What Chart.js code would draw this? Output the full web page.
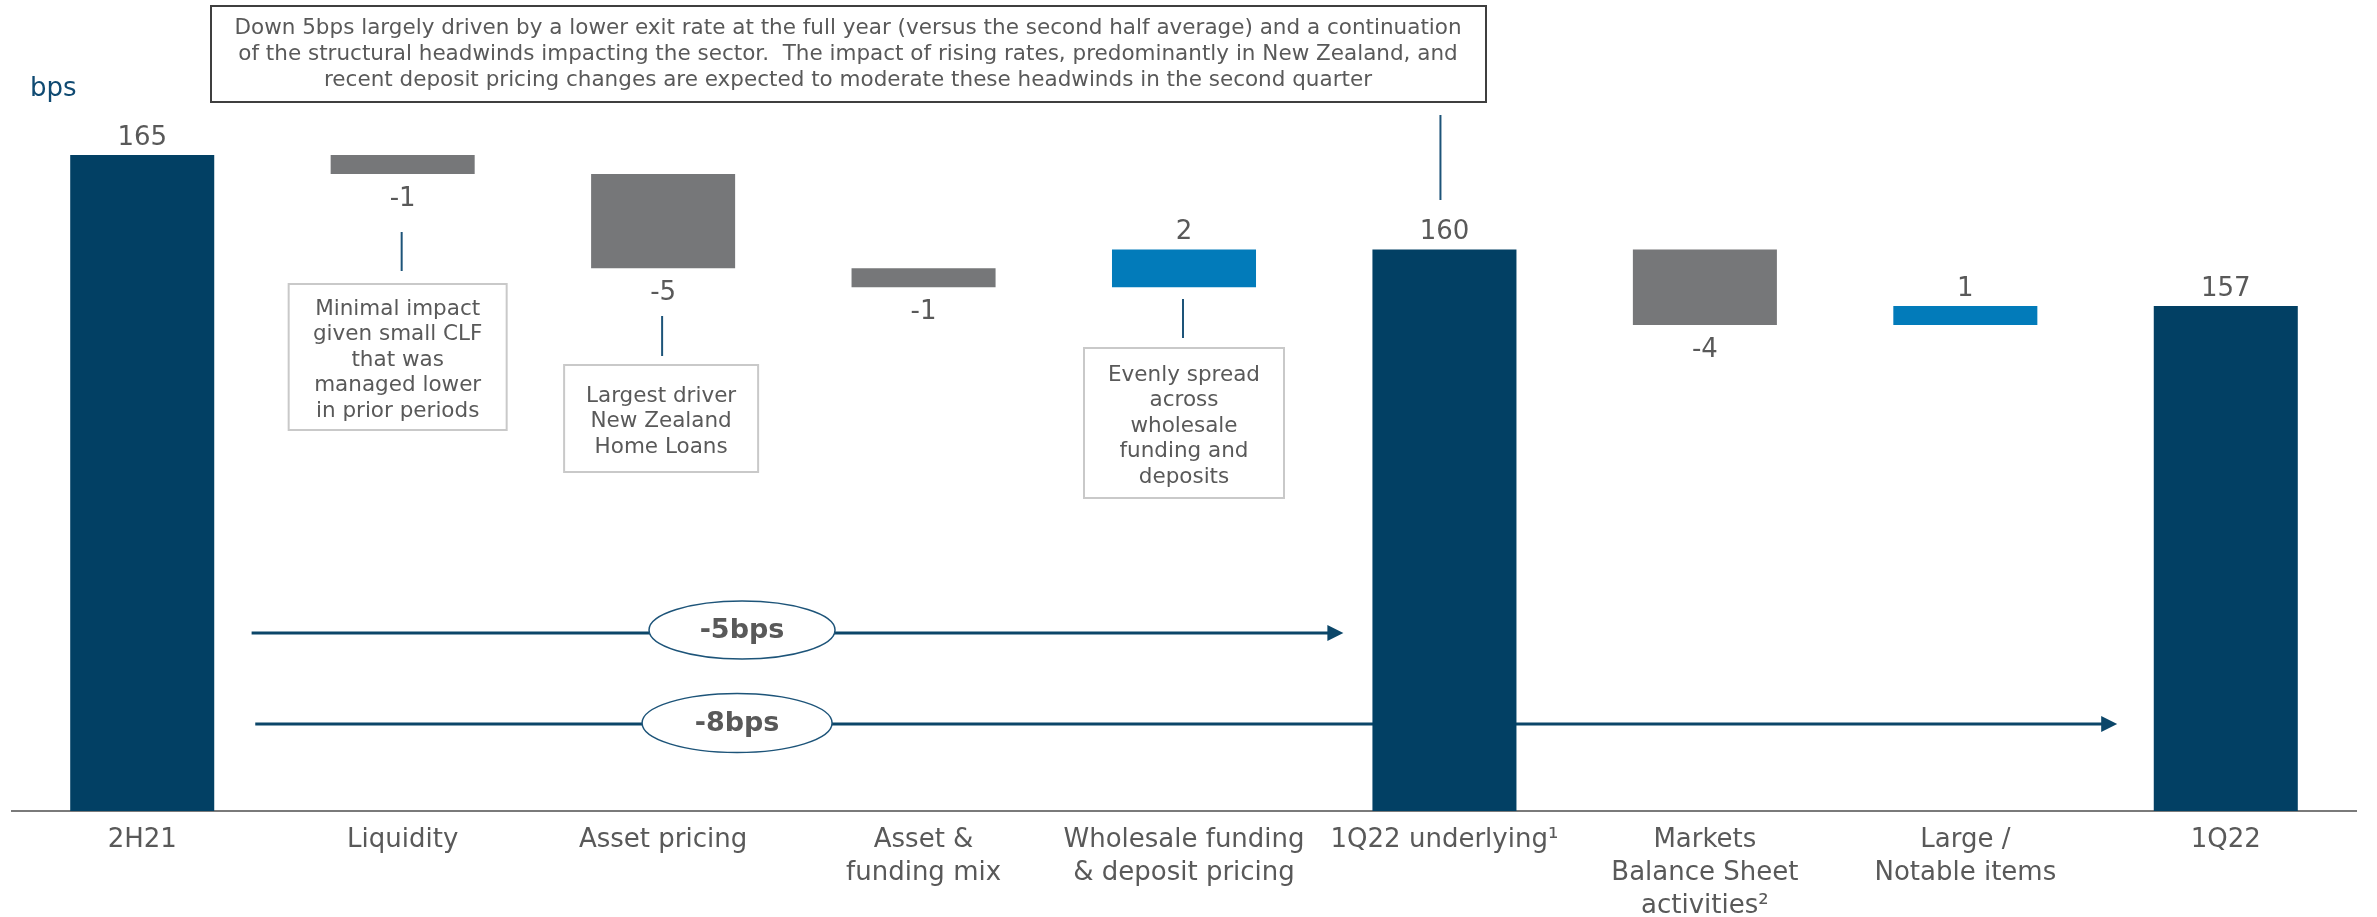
<!DOCTYPE html>
<html>
<head>
<meta charset="utf-8">
<script src="https://cdn.jsdelivr.net/npm/chart.js@4.4.1/dist/chart.umd.min.js"></script>
<style>
  html, body { margin: 0; padding: 0; background: #fff; }
  #wrap { position: relative; width: 2377px; height: 917px; }
</style>
</head>
<body>
<div id="wrap"><canvas id="nimChart"></canvas></div>
<script>
// bridge data (bps)
const categories = [
    ['2H21'], ['Liquidity'], ['Asset pricing'], ['Asset &', 'funding mix'],
    ['Wholesale funding', '& deposit pricing'], ['1Q22 underlying\u00B9'],
    ['Markets', 'Balance Sheet', 'activities\u00B2'], ['Large /', 'Notable items'], ['1Q22']
];
const movements = [165, -1, -5, -1, 2, 160, -4, 1, 157];
const isTotal = [true, false, false, false, false, true, false, false, true];
const axisMin = 130.25;
const axisMax = 173;

const headline = [
    'Down 5bps largely driven by a lower exit rate at the full year (versus the second half average) and a continuation',
    'of the structural headwinds impacting the sector.  The impact of rising rates, predominantly in New Zealand, and',
    'recent deposit pricing changes are expected to moderate these headwinds in the second quarter'
];
const calloutText = {
    1: ['Minimal impact', 'given small CLF', 'that was', 'managed lower', 'in prior periods'],
    2: ['Largest driver', 'New Zealand', 'Home Loans'],
    4: ['Evenly spread', 'across', 'wholesale', 'funding and', 'deposits']
};
const bridgeLabels = ['-5bps', '-8bps'];

const NAVY = '#024064';
const GREY = '#767779';
const BLUE = '#027bba';
const TEXT = '#595959';
const FONT = "'DejaVu Sans', Verdana, sans-serif";

// floating bars built from the movements
let running = 0;
const floating = movements.map((v, i) => {
    if (isTotal[i]) {
        running = v;
        return [axisMin, v];
    }
    const start = running;
    running += v;
    return [start, running];
});
const colours = movements.map((v, i) => isTotal[i] ? NAVY : (v < 0 ? GREY : BLUE));

// callout geometry (box size / vertical placement, px)
const calloutBoxes = {
    1: { w: 218, top: 284, h: 146, dx: -5, stem: [232, 271] },
    2: { w: 194, top: 365, h: 107, dx: -2, stem: [316, 356] },
    4: { w: 200, top: 348, h: 150, dx: 0, stem: [299, 338] }
};
const bridges = [
    { from: 0.42, to: 4.612, y: 633, ellipseAt: 2.303, ey: 630, rx: 93, ry: 29 },
    { from: 0.434, to: 7.583, y: 724, ellipseAt: 2.284, ey: 723, rx: 95, ry: 29.5 }
];

function drawLines(ctx, lines, cx, cy, lh) {
    const startY = cy - (lines.length - 1) * lh / 2;
    lines.forEach((t, k) => ctx.fillText(t, cx, startY + k * lh));
}

const annotate = {
    id: 'annotate',
    beforeDatasetsDraw(chart) {
        const ctx = chart.ctx;
        const x = chart.scales.x;
        ctx.save();
        bridges.forEach((b, k) => {
            const x0 = x.getPixelForValue(b.from);
            const x1 = x.getPixelForValue(b.to);
            ctx.strokeStyle = '#0b4669';
            ctx.fillStyle = '#0b4669';
            ctx.lineWidth = 3;
            ctx.beginPath();
            ctx.moveTo(x0, b.y);
            ctx.lineTo(x1 - 12, b.y);
            ctx.stroke();
            ctx.beginPath();
            ctx.moveTo(x1, b.y);
            ctx.lineTo(x1 - 16, b.y - 8);
            ctx.lineTo(x1 - 16, b.y + 8);
            ctx.closePath();
            ctx.fill();

            const ex = x.getPixelForValue(b.ellipseAt);
            ctx.beginPath();
            ctx.ellipse(ex, b.ey, b.rx, b.ry, 0, 0, Math.PI * 2);
            ctx.fillStyle = '#ffffff';
            ctx.fill();
            ctx.lineWidth = 1.5;
            ctx.strokeStyle = '#1d5479';
            ctx.stroke();
            ctx.fillStyle = TEXT;
            ctx.font = 'bold 27px ' + FONT;
            ctx.textAlign = 'center';
            ctx.textBaseline = 'middle';
            ctx.fillText(bridgeLabels[k], ex, b.ey + 1);
        });
        ctx.restore();
    },
    afterDatasetsDraw(chart) {
        const ctx = chart.ctx;
        const x = chart.scales.x;
        const meta = chart.getDatasetMeta(0);
        ctx.save();
        ctx.textAlign = 'center';
        ctx.textBaseline = 'middle';

        // value labels
        ctx.fillStyle = TEXT;
        ctx.font = '26px ' + FONT;
        meta.data.forEach((bar, i) => {
            const v = movements[i];
            const top = Math.min(bar.y, bar.base);
            const bottom = Math.max(bar.y, bar.base);
            const y = v > 0 ? top - 17 : bottom + 25;
            ctx.fillText(String(v), bar.x, y);
        });

        // callouts
        Object.keys(calloutBoxes).forEach(key => {
            const c = calloutBoxes[key];
            const cx = x.getPixelForValue(Number(key));
            ctx.strokeStyle = '#1d5479';
            ctx.lineWidth = 2;
            ctx.beginPath();
            ctx.moveTo(cx - 1, c.stem[0]);
            ctx.lineTo(cx - 1, c.stem[1]);
            ctx.stroke();
            const left = cx - c.w / 2 + c.dx;
            ctx.strokeStyle = '#c9c9c9';
            ctx.strokeRect(left, c.top, c.w, c.h);
            ctx.fillStyle = TEXT;
            ctx.font = '21.5px ' + FONT;
            drawLines(ctx, calloutText[key], left + c.w / 2, c.top + c.h / 2 + 3, 25.5);
        });

        // headline box
        const hx = x.getPixelForValue(5);
        ctx.strokeStyle = '#1d5479';
        ctx.lineWidth = 2;
        ctx.beginPath();
        ctx.moveTo(hx - 4, 115);
        ctx.lineTo(hx - 4, 200);
        ctx.stroke();
        ctx.strokeStyle = '#3f3f3f';
        ctx.strokeRect(211, 6, 1275, 96);
        ctx.fillStyle = TEXT;
        ctx.font = '21.5px ' + FONT;
        drawLines(ctx, headline, 848, 54, 26);

        // unit label
        ctx.fillStyle = '#0f4a72';
        ctx.font = '26px ' + FONT;
        ctx.textAlign = 'left';
        ctx.fillText('bps', 30, 89);
        ctx.restore();
    }
};

new Chart(document.getElementById('nimChart'), {
    type: 'bar',
    data: {
        labels: categories,
        datasets: [{
            data: floating,
            backgroundColor: colours,
            borderWidth: 0,
            barPercentage: 0.553,
            categoryPercentage: 1
        }]
    },
    options: {
        responsive: true,
        maintainAspectRatio: false,
        animation: false,
        layout: { padding: { top: 4, left: 12, right: 21, bottom: 0 } },
        plugins: { legend: { display: false }, tooltip: { enabled: false } },
        scales: {
            x: {
                grid: { display: false, drawTicks: false },
                border: { display: true, color: '#7a7a7a', width: 2 },
                ticks: {
                    color: TEXT,
                    font: { family: FONT, size: 26, lineHeight: 1.27 },
                    padding: 12.5,
                    maxRotation: 0,
                    autoSkip: false
                },
                afterFit(scale) { scale.height = 106; }
            },
            y: {
                display: false,
                min: axisMin,
                max: axisMax
            }
        }
    },
    plugins: [annotate]
});
</script>
</body>
</html>
